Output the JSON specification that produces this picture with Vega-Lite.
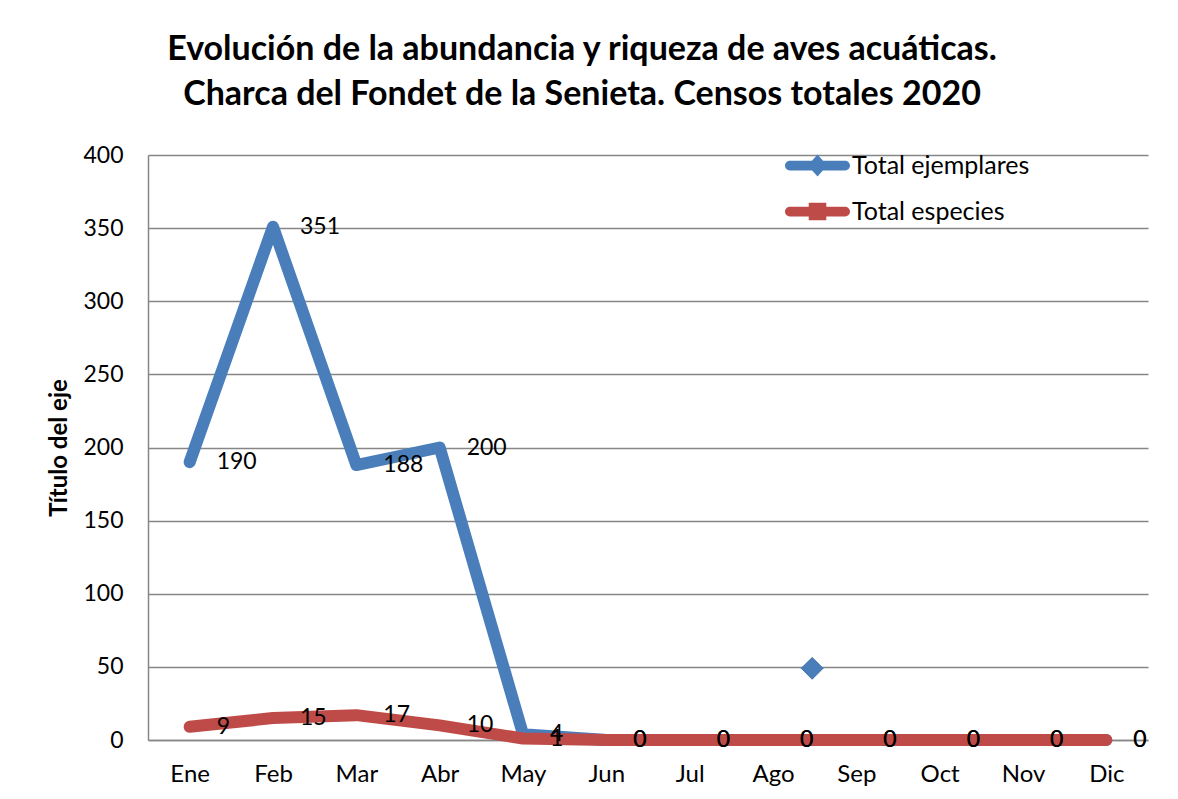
{
  "$schema": "https://vega.github.io/schema/vega-lite/v6.json",
  "width": 1000,
  "height": 585,
  "autosize": {"type": "none"},
  "padding": {"left": 148, "top": 155, "right": 30, "bottom": 59},
  "background": "white",
  "config": {
    "font": "Lato",
    "view": {"stroke": null},
    "axis": {"labelFont": "Lato", "titleFont": "Lato", "labelColor": "black", "titleColor": "black"}
  },
  "title": {
    "text": ["Evolución de la abundancia y riqueza de aves acuáticas.", "Charca del Fondet de la Senieta. Censos totales 2020"],
    "font": "Lato",
    "fontSize": 34,
    "fontWeight": "bold",
    "lineHeight": 45,
    "color": "black",
    "anchor": "middle",
    "dx": -66,
    "offset": 21
  },
  "data": {
    "values": [
      {"tipo": "serie", "serie": "Total ejemplares", "n": 1, "mes": "Ene", "v": 190},
      {"tipo": "serie", "serie": "Total ejemplares", "n": 2, "mes": "Feb", "v": 351},
      {"tipo": "serie", "serie": "Total ejemplares", "n": 3, "mes": "Mar", "v": 188},
      {"tipo": "serie", "serie": "Total ejemplares", "n": 4, "mes": "Abr", "v": 200},
      {"tipo": "serie", "serie": "Total ejemplares", "n": 5, "mes": "May", "v": 4},
      {"tipo": "serie", "serie": "Total ejemplares", "n": 6, "mes": "Jun", "v": 0},
      {"tipo": "serie", "serie": "Total ejemplares", "n": 7, "mes": "Jul", "v": 0},
      {"tipo": "serie", "serie": "Total ejemplares", "n": 8, "mes": "Ago", "v": 0},
      {"tipo": "serie", "serie": "Total ejemplares", "n": 9, "mes": "Sep", "v": 0},
      {"tipo": "serie", "serie": "Total ejemplares", "n": 10, "mes": "Oct", "v": 0},
      {"tipo": "serie", "serie": "Total ejemplares", "n": 11, "mes": "Nov", "v": 0},
      {"tipo": "serie", "serie": "Total ejemplares", "n": 12, "mes": "Dic", "v": 0},
      {"tipo": "serie", "serie": "Total especies", "n": 1, "mes": "Ene", "v": 9},
      {"tipo": "serie", "serie": "Total especies", "n": 2, "mes": "Feb", "v": 15},
      {"tipo": "serie", "serie": "Total especies", "n": 3, "mes": "Mar", "v": 17},
      {"tipo": "serie", "serie": "Total especies", "n": 4, "mes": "Abr", "v": 10},
      {"tipo": "serie", "serie": "Total especies", "n": 5, "mes": "May", "v": 1},
      {"tipo": "serie", "serie": "Total especies", "n": 6, "mes": "Jun", "v": 0},
      {"tipo": "serie", "serie": "Total especies", "n": 7, "mes": "Jul", "v": 0},
      {"tipo": "serie", "serie": "Total especies", "n": 8, "mes": "Ago", "v": 0},
      {"tipo": "serie", "serie": "Total especies", "n": 9, "mes": "Sep", "v": 0},
      {"tipo": "serie", "serie": "Total especies", "n": 10, "mes": "Oct", "v": 0},
      {"tipo": "serie", "serie": "Total especies", "n": 11, "mes": "Nov", "v": 0},
      {"tipo": "serie", "serie": "Total especies", "n": 12, "mes": "Dic", "v": 0},
      {"tipo": "marcador", "serie": "Total ejemplares", "n": 8.47, "mes": "", "v": 49}
    ]
  },
  "encoding": {
    "x": {
      "field": "n",
      "type": "quantitative",
      "scale": {"domain": [0.5, 12.5], "nice": false, "zero": false},
      "axis": {
        "title": null,
        "values": [1, 2, 3, 4, 5, 6, 7, 8, 9, 10, 11, 12],
        "labelExpr": "['Ene','Feb','Mar','Abr','May','Jun','Jul','Ago','Sep','Oct','Nov','Dic'][datum.value - 1]",
        "labelFontSize": 24,
        "labelPadding": 22,
        "ticks": false,
        "grid": false,
        "domainColor": "#868686",
        "domainWidth": 1.5
      }
    },
    "y": {
      "field": "v",
      "type": "quantitative",
      "scale": {"domain": [0, 400], "nice": false},
      "axis": {
        "title": "Título del eje",
        "titleFontSize": 24,
        "titleFontWeight": "bold",
        "titlePadding": 11,
        "values": [0, 50, 100, 150, 200, 250, 300, 350, 400],
        "labelFontSize": 23,
        "labelPadding": 25,
        "ticks": false,
        "grid": true,
        "gridColor": "#868686",
        "gridWidth": 1.5,
        "domainColor": "#868686",
        "domainWidth": 1.5
      }
    }
  },
  "layer": [
    {
      "transform": [{"filter": "datum.tipo === 'serie' && datum.serie === 'Total ejemplares'"}],
      "mark": {"type": "line", "strokeWidth": 12, "strokeCap": "round", "strokeJoin": "round"},
      "encoding": {
        "color": {
          "field": "serie",
          "type": "nominal",
          "scale": {"domain": ["Total ejemplares", "Total especies"], "range": ["#4A7EBB", "#BE4B48"]},
          "legend": {
            "title": null,
            "orient": "none",
            "legendX": 637,
            "legendY": -22,
            "labelFont": "Lato",
            "labelFontSize": 25,
            "labelColor": "black",
            "labelOffset": 2,
            "labelLimit": 400,
            "symbolSize": 4225,
            "symbolStrokeWidth": 0,
            "rowPadding": -18,
            "symbolOpacity": 1,
            "encode": {
              "symbols": {
                "update": {
                  "shape": {"signal": "datum.value === 'Total ejemplares' ? 'M-0.85,-0.15H0.85A0.15,0.15 0 0 1 0.85,0.15H-0.85A0.15,0.15 0 0 1 -0.85,-0.15Z M0,-0.34L0.3,0L0,0.34L-0.3,0Z' : 'M-0.85,-0.15H0.85A0.15,0.15 0 0 1 0.85,0.15H-0.85A0.15,0.15 0 0 1 -0.85,-0.15Z M-0.27,-0.27H0.27V0.27H-0.27Z'"},
                  "fill": {"signal": "datum.value === 'Total ejemplares' ? '#4A7EBB' : '#BE4B48'"},
                  "fillOpacity": {"value": 1},
                  "opacity": {"value": 1},
                  "strokeWidth": {"value": 0}
                }
              }
            }
          }
        }
      }
    },
    {
      "transform": [{"filter": "datum.tipo === 'serie' && datum.serie === 'Total especies'"}],
      "mark": {"type": "line", "strokeWidth": 12, "strokeCap": "round", "strokeJoin": "round"},
      "encoding": {
        "color": {"field": "serie", "type": "nominal"}
      }
    },
    {
      "transform": [{"filter": "datum.tipo === 'marcador'"}],
      "mark": {"type": "point", "shape": "diamond", "filled": true, "size": 480, "color": "#4A7EBB", "stroke": "#2f5f98", "strokeWidth": 0.8, "opacity": 1}
    },
    {
      "transform": [{"filter": "datum.tipo === 'serie'"}],
      "mark": {"type": "text", "align": "left", "baseline": "middle", "dx": 27, "fontSize": 23, "font": "Lato", "color": "black"},
      "encoding": {
        "text": {"field": "v", "type": "quantitative"}
      }
    }
  ]
}
